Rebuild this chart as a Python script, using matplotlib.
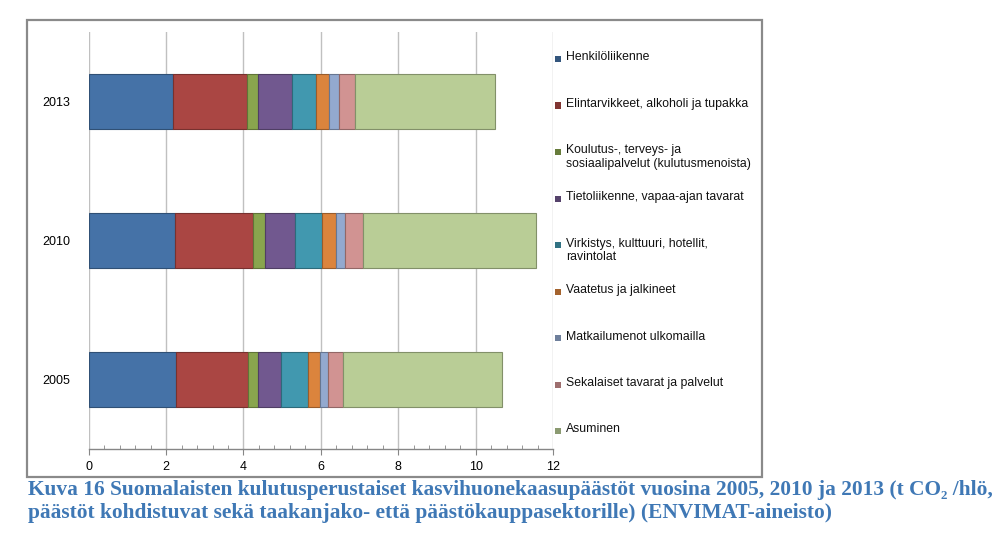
import matplotlib
matplotlib.use("Agg")
import matplotlib.pyplot as plt
import matplotlib.patches as mpatches
import matplotlib.colors as mcolors
import numpy as np

years = ["2005", "2010", "2013"]
categories = [
    "Henkilöliikenne",
    "Elintarvikkeet, alkoholi ja tupakka",
    "Koulutus-, terveys- ja\nsosiaalipalvelut (kulutusmenoista)",
    "Tietoliikenne, vapaa-ajan tavarat",
    "Virkistys, kulttuuri, hotellit,\nravintolat",
    "Vaatetus ja jalkineet",
    "Matkailumenot ulkomailla",
    "Sekalaiset tavarat ja palvelut",
    "Asuminen",
]
# values per category for 2005, 2010, 2013 (t CO2 / person)
henkiloliikenne = [2.26, 2.23, 2.19]
elintarvikkeet = [1.86, 2.01, 1.89]
koulutus = [0.26, 0.32, 0.30]
tietoliikenne = [0.58, 0.77, 0.87]
virkistys = [0.70, 0.69, 0.62]
vaatetus = [0.31, 0.37, 0.33]
matkailu = [0.22, 0.24, 0.26]
sekalaiset = [0.39, 0.45, 0.43]
asuminen = [4.10, 4.47, 3.61]
series = [henkiloliikenne, elintarvikkeet, koulutus, tietoliikenne, virkistys,
          vaatetus, matkailu, sekalaiset, asuminen]
colors = ["#4572A7", "#AA4643", "#89A54E", "#71588F", "#4198AF",
          "#DB843D", "#93A9CF", "#D19392", "#B9CD96"]
caption = ("Kuva 16 Suomalaisten kulutusperustaiset kasvihuonekaasupäästöt vuosina 2005, 2010 ja 2013 (t CO\u2082 /hlö,\n"
           "päästöt kohdistuvat sekä taakanjako- että päästökauppasektorille) (ENVIMAT-aineisto)")

plt.rcParams['font.family'] = ['Liberation Sans', 'DejaVu Sans']

W, H = 1001, 535
fig = plt.figure(figsize=(W / 100, H / 100), dpi=100)
fig.patch.set_facecolor("white")

# outer chart frame
frame = mpatches.Rectangle((27 / W, 1 - 477 / H), (762 - 27) / W, (477 - 20) / H,
                           transform=fig.transFigure, fill=False,
                           edgecolor="#8a8a8a", linewidth=1.6, zorder=0)
fig.patches.append(frame)

ax = fig.add_axes([88.7 / W, 1 - 449 / H, (553 - 88.7) / W, (449 - 32) / H])

def darker(c, f=0.7):
    r, g, b = mcolors.to_rgb(c)
    return (r * f, g * f, b * f)

ypos = np.arange(len(years))
left = np.zeros(len(years))
for vals, col in zip(series, colors):
    ax.barh(ypos, vals, left=left, height=0.39, color=col,
            edgecolor=darker(col), linewidth=0.8, zorder=3)
    left += np.array(vals)

ax.set_xlim(0, 12)
ax.set_ylim(-0.5, 2.5)
ax.set_xticks(np.arange(0, 13, 2))
ax.set_xticks(np.arange(0, 12.01, 0.4), minor=True)
ax.set_yticks(ypos)
ax.set_yticklabels(years, fontsize=9)
ax.tick_params(axis="y", length=0, pad=13.5)
ax.tick_params(axis="x", which="major", direction="out", length=4,
               color="#868686", labelsize=9, pad=5)
ax.tick_params(axis="x", which="minor", direction="in", length=3, color="#868686")
ax.grid(axis="x", color="#c0c0c0", linewidth=1.0, zorder=0)
ax.set_axisbelow(True)
for s in ["left", "top", "right"]:
    ax.spines[s].set_visible(False)
ax.spines["bottom"].set_color("#868686")
ax.spines["bottom"].set_linewidth(1.0)

# legend (Excel-style, evenly spaced entries)
leg_y0 = 59
leg_dy = 46.5
for i, (lab, col) in enumerate(zip(categories, colors)):
    yc = leg_y0 + i * leg_dy
    fig.patches.append(mpatches.Rectangle((554.5 / W, 1 - (yc + 3) / H), 6 / W, 6 / H,
                                          transform=fig.transFigure,
                                          facecolor=darker(col, 0.75), edgecolor="none"))
    fig.text(566 / W, 1 - (yc - 7.5) / H, lab, fontsize=8.8, va="top", ha="left",
             linespacing=1.22, color="#111111")

fig.text(28 / W, 1 - 480.5 / H, caption, fontsize=15.38, fontweight="bold",
         family=["Liberation Serif", "DejaVu Serif"], color="#3F78B5",
         va="top", ha="left", linespacing=1.19)

fig.savefig("out.png", dpi=100, facecolor="white")
